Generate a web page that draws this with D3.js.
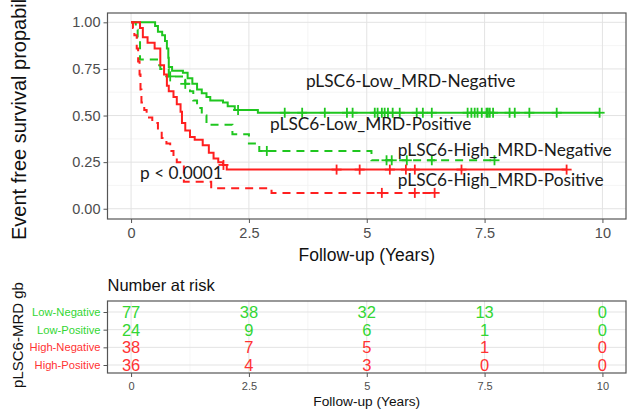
<!DOCTYPE html>
<html>
<head>
<meta charset="utf-8">
<script src="https://cdn.jsdelivr.net/npm/d3@7"></script>
<style>
    body { margin: 0; background: #fff; }
    .tick-text { font-family: "Liberation Sans", Arial, sans-serif; fill: #4d4d4d; }
    .axis-title { font-family: "Liberation Sans", Arial, sans-serif; fill: #111; }
    .note { font-family: Lato, "Open Sans", sans-serif; fill: #1a1a1a; }
</style>
</head>
<body>
<svg id="km" width="628" height="412"></svg>
<script>
// step points: [time (years), survival after the drop]
var lowNeg = [[0.51,0.98],[0.57,0.95],[0.66,0.93],[0.72,0.90],[0.76,0.86],[0.79,0.81],[0.80,0.76],[0.87,0.74],[1.10,0.73],[1.20,0.70],[1.30,0.67],[1.40,0.64],[1.50,0.62],[1.60,0.60],[1.68,0.58],[1.95,0.57],[2.05,0.55],[2.20,0.53],[2.69,0.515]]
var lowPos = [[0.10,0.96],[0.14,0.92],[0.19,0.80],[0.55,0.77],[0.62,0.75],[0.80,0.71],[1.15,0.67],[1.25,0.63],[1.32,0.58],[1.40,0.54],[1.50,0.50],[1.60,0.45],[2.15,0.40],[2.50,0.35],[2.72,0.31],[5.10,0.26]]
var highNeg = [[0.19,0.97],[0.25,0.92],[0.35,0.89],[0.50,0.86],[0.62,0.77],[0.70,0.72],[0.76,0.66],[0.80,0.63],[0.90,0.60],[0.97,0.56],[1.05,0.52],[1.08,0.46],[1.15,0.42],[1.25,0.385],[1.35,0.37],[1.52,0.34],[1.65,0.30],[1.75,0.27],[1.85,0.25],[1.95,0.235],[2.03,0.21]]
var highPos = [[0.04,0.97],[0.07,0.93],[0.12,0.86],[0.15,0.79],[0.18,0.72],[0.20,0.64],[0.22,0.57],[0.28,0.53],[0.33,0.49],[0.45,0.46],[0.57,0.42],[0.65,0.38],[0.75,0.35],[0.83,0.31],[0.90,0.28],[0.97,0.25],[1.12,0.145],[1.70,0.11],[2.98,0.085]]

// censor times
var lowNegCens = [2.27,3.26,3.63,4.11,4.58,4.70,5.17,5.23,5.32,5.38,5.45,5.55,5.70,6.06,6.19,6.38,7.14,7.22,7.29,7.35,7.44,7.54,7.57,7.61,7.68,8.03,8.14,8.45,9.03,9.94]
var lowPosCens = [0.83,1.15,2.88,5.42,5.53,5.85,6.38,7.71]
var highNegCens = [1.96,4.36,4.85,5.49,5.83,6.02,7.01,9.24]
var highPosCens = [5.32,6.02,6.44]

var groupNames = ['Low-Negative', 'Low-Positive', 'High-Negative', 'High-Positive']
var curveLabels = ['pLSC6-Low_MRD-Negative', 'pLSC6-Low_MRD-Positive', 'pLSC6-High_MRD-Negative', 'pLSC6-High_MRD-Positive']
var riskTimes = [0, 2.5, 5, 7.5, 10]
var riskLowNeg = [77, 38, 32, 13, 0]
var riskLowPos = [24, 9, 6, 1, 0]
var riskHighNeg = [38, 7, 5, 1, 0]
var riskHighPos = [36, 4, 3, 0, 0]
var xTicks = [0, 2.5, 5, 7.5, 10]
var yTicks = [0, 0.25, 0.5, 0.75, 1]

var green = '#1fc61f', red = '#ff1f1f'
var groups = [
    { name: groupNames[0], steps: lowNeg, cens: lowNegCens, risk: riskLowNeg, color: green, dash: null },
    { name: groupNames[1], steps: lowPos, cens: lowPosCens, risk: riskLowPos, color: green, dash: '8,6' },
    { name: groupNames[2], steps: highNeg, cens: highNegCens, risk: riskHighNeg, color: red, dash: null },
    { name: groupNames[3], steps: highPos, cens: highPosCens, risk: riskHighPos, color: red, dash: '8,6' }
]

var svg = d3.select('#km')
var panel = { left: 107.5, right: 626, top: 13, bottom: 219 }
var table = { top: 301, bottom: 373 }

var x = d3.scaleLinear().domain([-0.5, 10.5]).range([panel.left, panel.right])
var y = d3.scaleLinear().domain([-0.055, 1.05]).range([panel.bottom, panel.top])

function surv(steps, t) {
    var s = 1
    steps.forEach(function(d) { if (d[0] <= t) s = d[1] })
    return s
}

// ---- survival panel ----
var kmPanel = svg.append('g')

var minorX = d3.range(-1.25, 11, 2.5).filter(d => x(d) > panel.left && x(d) < panel.right)
var minorY = [0.125, 0.375, 0.625, 0.875]

kmPanel.selectAll('.minor-x').data(minorX).join('line')
    .attr('x1', d => x(d)).attr('x2', d => x(d))
    .attr('y1', panel.top).attr('y2', panel.bottom)
    .attr('stroke', '#f0f0f0').attr('stroke-width', 0.7)
kmPanel.selectAll('.minor-y').data(minorY).join('line')
    .attr('y1', d => y(d)).attr('y2', d => y(d))
    .attr('x1', panel.left).attr('x2', panel.right)
    .attr('stroke', '#f0f0f0').attr('stroke-width', 0.7)
kmPanel.selectAll('.grid-x').data(xTicks).join('line')
    .attr('x1', d => x(d)).attr('x2', d => x(d))
    .attr('y1', panel.top).attr('y2', panel.bottom)
    .attr('stroke', '#e3e3e3').attr('stroke-width', 1)
kmPanel.selectAll('.grid-y').data(yTicks).join('line')
    .attr('y1', d => y(d)).attr('y2', d => y(d))
    .attr('x1', panel.left).attr('x2', panel.right)
    .attr('stroke', '#e3e3e3').attr('stroke-width', 1)

var line = d3.line().x(d => x(d[0])).y(d => y(d[1])).curve(d3.curveStepAfter)

groups.forEach(function(g) {
    var end = g.cens[g.cens.length - 1]
    var pts = [[0, 1]].concat(g.steps, [[end, g.steps[g.steps.length - 1][1]]])
    kmPanel.append('path')
        .attr('d', line(pts))
        .attr('fill', 'none')
        .attr('stroke', g.color)
        .attr('stroke-width', 2)
        .attr('stroke-dasharray', g.dash)

    var marks = kmPanel.append('g').attr('stroke', g.color).attr('stroke-width', 1.8)
    marks.selectAll('line.h').data(g.cens).join('line')
        .attr('x1', d => x(d) - 5).attr('x2', d => x(d) + 5)
        .attr('y1', d => y(surv(g.steps, d))).attr('y2', d => y(surv(g.steps, d)))
    marks.selectAll('line.v').data(g.cens).join('line')
        .attr('x1', d => x(d)).attr('x2', d => x(d))
        .attr('y1', d => y(surv(g.steps, d)) - 5).attr('y2', d => y(surv(g.steps, d)) + 5)
})

kmPanel.append('rect')
    .attr('x', panel.left).attr('y', panel.top)
    .attr('width', panel.right - panel.left).attr('height', panel.bottom - panel.top)
    .attr('fill', 'none').attr('stroke', '#555').attr('stroke-width', 1.2)

var xAxis = kmPanel.append('g')
    .attr('transform', 'translate(0,' + panel.bottom + ')')
    .call(d3.axisBottom(x).tickValues(xTicks).tickSize(4).tickFormat(d3.format('')))
var yAxis = kmPanel.append('g')
    .attr('transform', 'translate(' + panel.left + ',0)')
    .call(d3.axisLeft(y).tickValues(yTicks).tickSize(4).tickFormat(d3.format('.2f')))
;[xAxis, yAxis].forEach(function(a) {
    a.select('.domain').remove()
    a.selectAll('.tick line').attr('stroke', '#555')
    a.selectAll('.tick text').attr('class', 'tick-text').style('font-size', '14.5px')
})
xAxis.selectAll('.tick text').attr('dy', '0.85em')

kmPanel.append('text')
    .attr('class', 'axis-title')
    .attr('x', x(5)).attr('y', 261)
    .attr('text-anchor', 'middle')
    .style('font-size', '17.5px')
    .text('Follow-up (Years)')
// the title is longer than the panel, so its end runs off the top as in the original
kmPanel.append('text')
    .attr('class', 'axis-title')
    .attr('transform', 'translate(26,240) rotate(-90)')
    .style('font-size', '20px')
    .text('Event free survival propability')

// curve labels
var notes = [
    { text: curveLabels[0], t: 3.71, s: 0.655 },
    { text: curveLabels[1], t: 2.95, s: 0.42 },
    { text: curveLabels[2], t: 5.66, s: 0.285 },
    { text: curveLabels[3], t: 5.66, s: 0.12 },
    { text: 'p < 0.0001', t: 0.19, s: 0.157 }
]
kmPanel.selectAll('.note').data(notes).join('text')
    .attr('class', 'note')
    .attr('x', d => x(d.t)).attr('y', d => y(d.s))
    .style('font-size', '17.3px')
    .text(d => d.text)

// ---- number at risk table ----
var rows = d3.scalePoint().domain(groupNames).range([312, 365])
var riskPanel = svg.append('g')

svg.append('text')
    .attr('class', 'axis-title')
    .attr('x', panel.left).attr('y', 291)
    .style('font-size', '16.5px')
    .text('Number at risk')

riskPanel.selectAll('.minor-x').data(minorX).join('line')
    .attr('x1', d => x(d)).attr('x2', d => x(d))
    .attr('y1', table.top).attr('y2', table.bottom)
    .attr('stroke', '#f0f0f0').attr('stroke-width', 0.7)
riskPanel.selectAll('.grid-x').data(xTicks).join('line')
    .attr('x1', d => x(d)).attr('x2', d => x(d))
    .attr('y1', table.top).attr('y2', table.bottom)
    .attr('stroke', '#e3e3e3').attr('stroke-width', 1)
riskPanel.selectAll('.grid-y').data(groupNames).join('line')
    .attr('y1', d => rows(d)).attr('y2', d => rows(d))
    .attr('x1', panel.left).attr('x2', panel.right)
    .attr('stroke', '#e3e3e3').attr('stroke-width', 1)

groups.forEach(function(g) {
    riskPanel.append('g').selectAll('text').data(riskTimes).join('text')
        .attr('x', d => x(d)).attr('y', rows(g.name))
        .attr('text-anchor', 'middle')
        .attr('dominant-baseline', 'central')
        .style('font-family', '"Liberation Sans", Arial, sans-serif')
        .style('font-size', '16.5px')
        .attr('fill', g.color === green ? '#33d633' : '#ff3333')
        .text((d, i) => g.risk[i])
})

riskPanel.append('rect')
    .attr('x', panel.left).attr('y', table.top)
    .attr('width', panel.right - panel.left).attr('height', table.bottom - table.top)
    .attr('fill', 'none').attr('stroke', '#555').attr('stroke-width', 1.2)

var tx = riskPanel.append('g')
    .attr('transform', 'translate(0,' + table.bottom + ')')
    .call(d3.axisBottom(x).tickValues(xTicks).tickSize(4).tickFormat(d3.format('')))
var ty = riskPanel.append('g')
    .attr('transform', 'translate(' + panel.left + ',0)')
    .call(d3.axisLeft(rows).tickSize(4))
;[tx, ty].forEach(function(a) {
    a.select('.domain').remove()
    a.selectAll('.tick line').attr('stroke', '#555')
})
tx.selectAll('.tick text').attr('class', 'tick-text').style('font-size', '11px').attr('dy', '0.9em')
ty.selectAll('.tick text')
    .style('font-family', '"Liberation Sans", Arial, sans-serif')
    .style('font-size', '11.2px')
    .attr('fill', (d, i) => i < 2 ? '#33d633' : '#ff3333')

riskPanel.append('text')
    .attr('class', 'axis-title')
    .attr('x', x(5)).attr('y', 406)
    .attr('text-anchor', 'middle')
    .style('font-size', '13.7px')
    .text('Follow-up (Years)')
riskPanel.append('text')
    .attr('class', 'axis-title')
    .attr('transform', 'translate(23,335) rotate(-90)')
    .attr('text-anchor', 'middle')
    .style('font-size', '15px')
    .text('pLSC6-MRD gb')
</script>
</body>
</html>
